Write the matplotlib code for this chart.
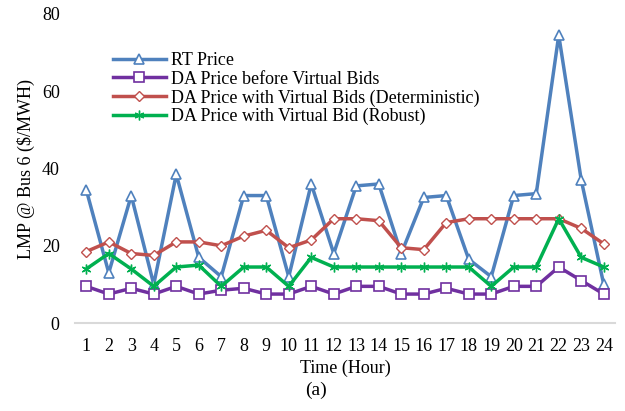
import matplotlib.pyplot as plt

hours = list(range(1, 25))

rt_price = [34.5, 13, 33, 10, 38.5, 17, 12, 33, 33, 12, 36, 18,
            35.5, 36, 18, 32.5, 33, 16.5, 12, 33, 33.5, 74.5, 37, 10]
da_before = [9.5, 7.5, 9, 7.5, 9.5, 7.5, 8.5, 9, 7.5, 7.5, 9.5, 7.5,
             9.5, 9.5, 7.5, 7.5, 9, 7.5, 7.5, 9.5, 9.5, 14.5, 11, 7.5]
da_deterministic = [18.5, 21, 18, 17.5, 21, 21, 20, 22.5, 24, 19.5, 21.5, 27,
                    27, 26.5, 19.5, 19, 26, 27, 27, 27, 27, 27, 24.5, 20.5]
da_robust = [14, 18, 14, 9.5, 14.5, 15, 9.5, 14.5, 14.5, 9.5, 17, 14.5,
             14.5, 14.5, 14.5, 14.5, 14.5, 14.5, 9.5, 14.5, 14.5, 27, 17, 14.5]

y_ticks = [0, 20, 40, 60, 80]

plt.rcParams['font.family'] = ['Liberation Serif', 'DejaVu Serif']

fig = plt.figure(figsize=(6.25, 4.11), dpi=100)
ax = fig.add_axes([0.12, 0.214, 0.864, 0.752])

ax.plot(hours, rt_price, color='#4F81BD', lw=2.5, marker='^', ms=7,
        mfc='white', mec='#4F81BD', mew=1.2, label='RT Price')
ax.plot(hours, da_before, color='#7030A0', lw=2.5, marker='s', ms=7,
        mfc='white', mec='#7030A0', mew=1.2, label='DA Price before Virtual Bids')
ax.plot(hours, da_deterministic, color='#C0504D', lw=2.5, marker='D', ms=5,
        mfc='white', mec='#C0504D', mew=1.0,
        label='DA Price with Virtual Bids (Deterministic)')
ax.plot(hours, da_robust, color='#00B050', lw=2.5, marker=(6, 2, 0), ms=7,
        mec='#00B050', mew=1.0, label='DA Price with Virtual Bid (Robust)')

ax.set_xlim(0.5, 24.5)
ax.set_ylim(0, 80)
ax.set_xticks(hours)
ax.set_yticks(y_ticks)
ax.tick_params(length=0, labelsize=13, pad=11)
for side in ['top', 'right', 'left']:
    ax.spines[side].set_visible(False)
ax.spines['bottom'].set_color('#D9D9D9')
ax.spines['bottom'].set_linewidth(1.5)

ax.set_ylabel('LMP @ Bus 6 ($/MWH)', fontsize=13, labelpad=5)
ax.set_xlabel('Time (Hour)', fontsize=13, labelpad=3)
fig.text(0.505, 0.04, '(a)', ha='center', fontsize=14)

ax.legend(loc='upper left', bbox_to_anchor=(0.054, 0.905), frameon=False,
          fontsize=13, handlelength=2.9, labelspacing=0.08, borderpad=0,
          handletextpad=0.3)

plt.savefig('out.png')
